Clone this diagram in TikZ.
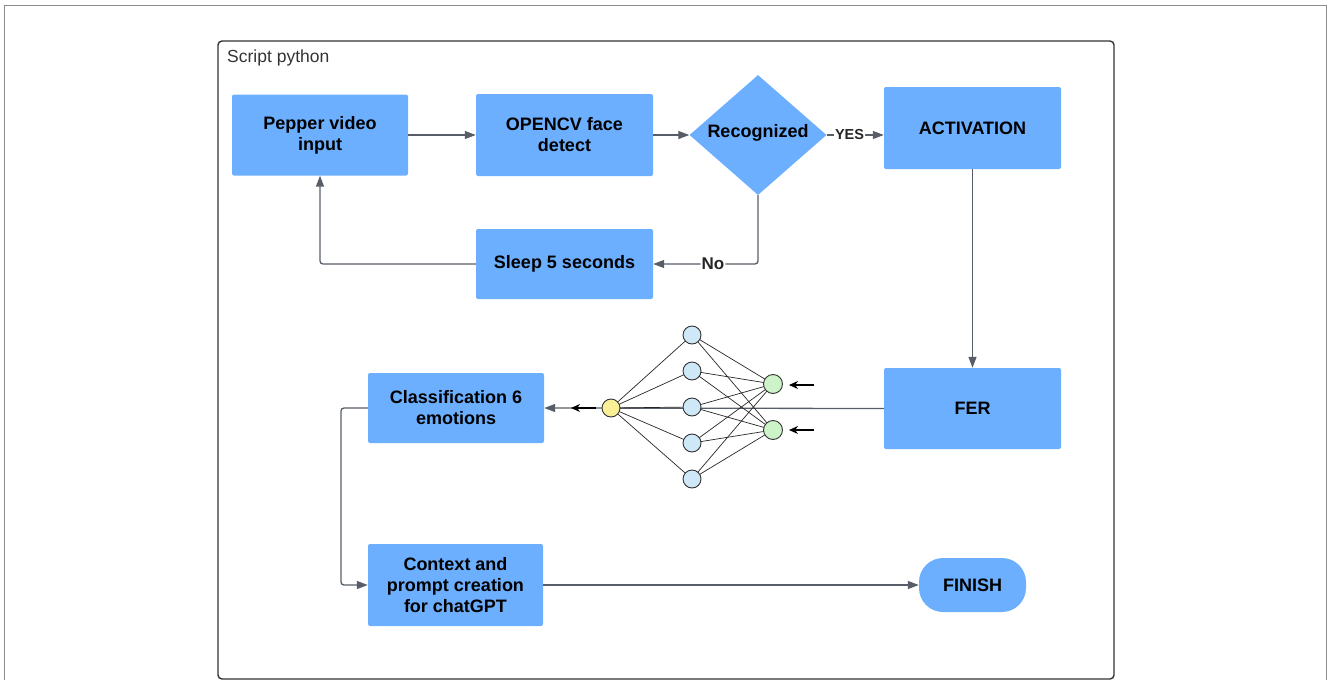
\documentclass[tikz,border=0pt]{standalone}
\usepackage{fontspec}
\setmainfont{Liberation Sans}
\usetikzlibrary{arrows.meta,shapes.geometric}
\pgfdeclarelayer{background}
\pgfsetlayers{background,main}
\definecolor{boxblue}{RGB}{108,175,255}
\definecolor{linegray}{RGB}{88,94,104}
\definecolor{nnblue}{RGB}{206,232,248}
\definecolor{nnyellow}{RGB}{250,238,150}
\definecolor{nngreen}{RGB}{205,243,200}
\tikzset{
  box/.style={draw=none, fill=boxblue, rounded corners=2pt, align=center,
    font=\fontsize{18}{21}\selectfont\bfseries, inner sep=0pt},
  conn/.style={draw=linegray, line width=1.3pt, -{Triangle[length=11pt,width=8pt]}, rounded corners=3pt},
  lbl/.style={fill=white, inner sep=1pt, font=\fontsize{17}{20}\selectfont\bfseries, text=black!85},
  nn/.style={circle, draw=black!80, line width=0.9pt, minimum size=18pt, inner sep=0pt},
  nnedge/.style={draw=black!85, line width=0.7pt},
  smallarrow/.style={black, line width=1.3pt, -{Stealth[length=9pt,width=8pt]}},
}
\begin{document}
\begin{tikzpicture}[x=1pt,y=-1pt]
\useasboundingbox (0,0) rectangle (1328,680);
% frames
\draw[draw=black!45, line width=1.5pt] (4.5,690) -- (4.5,5.5) -- (1326.5,5.5) -- (1326.5,690);
\draw[draw=black!80, line width=1.4pt, rounded corners=4pt] (218,41) rectangle (1114,679);
\node[anchor=west, inner sep=0pt, font=\fontsize{17.5}{20}\selectfont, text=black!80] (title) at (227,58) {Script python};

% boxes
\node[box, minimum width=176pt, minimum height=81pt] (pepper) at (320,135) {Pepper video\\input};
\node[box, minimum width=177pt, minimum height=82pt] (opencv) at (564.5,135) {OPENCV face\\detect};
\node[diamond, fill=boxblue, minimum width=137pt, minimum height=120pt, inner sep=0pt, aspect=1.14] (recog) at (758,135) {};
\node[font=\fontsize{18}{21}\selectfont\bfseries] (recogtxt) at (758,133) {Recognized};
\node[box, minimum width=177pt, minimum height=82pt] (activ) at (972.5,128) {ACTIVATION};
\node[box, minimum width=177pt, minimum height=70pt] (sleep) at (564.5,264) {Sleep 5 seconds};
\node[box, minimum width=177pt, minimum height=81pt] (fer) at (972.5,408.5) {FER};
\node[box, minimum width=176pt, minimum height=70pt] (classif) at (456,408) {Classification 6\\emotions};
\node[box, minimum width=175pt, minimum height=82pt] (context) at (455.5,585) {Context and\\prompt creation\\for chatGPT};
\node[box, rounded corners=24pt, minimum width=107pt, minimum height=54pt] (finish) at (972.5,585) {FINISH};

% connectors
\draw[conn] (pepper.east) -- (opencv.west);
\draw[conn] (opencv.east) -- (recog.west);
\draw[conn] (recog.east) -- node[lbl, pos=0.4, font=\fontsize{14.5}{16}\selectfont\bfseries] {YES} (activ.west |- recog.east);
\draw[conn] (recog.south) |- node[lbl, pos=0.715] {No} (sleep.east);
\draw[conn] (sleep.west) -| (pepper.south);
\draw[conn] (activ.south) -- (fer.north);
\coordinate (c1) at (341,408);
\draw[conn] (classif.west) -- (c1) |- (context.west);
\draw[conn] (context.east) -- (finish.west);

% neural network icon
\node[nn, fill=nnyellow] (y) at (611,408) {};
\foreach \i/\yy in {1/335,2/371,3/407,4/443,5/479}
  \node[nn, fill=nnblue] (b\i) at (692,\yy) {};
\node[nn, fill=nngreen, minimum size=19pt] (g1) at (773,384) {};
\node[nn, fill=nngreen, minimum size=19pt] (g2) at (773,430) {};
\begin{pgfonlayer}{background}
\draw[conn, rounded corners=0pt] (fer.west) -- (classif.east);
\foreach \i in {1,...,5} {
  \draw[nnedge] (y.center) -- (b\i.center);
  \draw[nnedge] (b\i.center) -- (g1.center);
  \draw[nnedge] (b\i.center) -- (g2.center);
}
\end{pgfonlayer}
\coordinate (a1) at (814,385);
\coordinate (a2) at (814,430);
\coordinate (a3) at (596,408);
\coordinate (e1) at (789,385);
\coordinate (e2) at (789,430);
\coordinate (e3) at (571,408);
\draw[smallarrow] (a1) -- (e1);
\draw[smallarrow] (a2) -- (e2);
\draw[smallarrow] (a3) -- (e3);
\end{tikzpicture}
\end{document}
